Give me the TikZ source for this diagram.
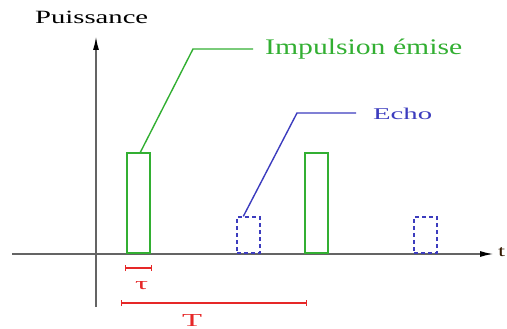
\documentclass[tikz,border=0pt]{standalone}
\usepackage{fontspec}
\setmainfont{Liberation Serif}
\usetikzlibrary{arrows.meta}
\definecolor{impgreen}{RGB}{50,175,50}
\definecolor{echoblue}{RGB}{60,60,190}
\definecolor{axgray}{RGB}{100,100,100}
\definecolor{mred}{RGB}{230,40,40}
\tikzset{
  axis/.style={draw=axgray, line width=1.8pt, -{Latex[length=14pt,width=6pt,color=black]}},
  pulse/.style={draw=impgreen, line width=1.6pt, rectangle, inner sep=0pt, anchor=south west, minimum width=23pt, minimum height=100pt},
  echobox/.style={draw=echoblue, line width=1.6pt, dashed, dash pattern=on 4pt off 3pt, rectangle, inner sep=0pt, anchor=south west, minimum width=23pt, minimum height=36pt},
  impleader/.style={draw=impgreen, line width=1.4pt},
  echoleader/.style={draw=echoblue, line width=1.4pt},
  measure/.style={draw=mred, line width=1.3pt, {Bar[width=6pt]}-{Bar[width=6pt]}},
  lbl/.style={inner sep=0pt, anchor=base west}
}
\begin{document}
\begin{tikzpicture}[x=1pt,y=-1pt]
\useasboundingbox (0,0) rectangle (507,329);
% axes
\coordinate (yb) at (96,307);
\coordinate (yt) at (96,36);
\coordinate (xl) at (12,254);
\coordinate (xr) at (494,254);
\draw[axis] (yb) -- (yt);
\draw[axis] (xl) -- (xr);
\node[lbl] (puis) at (35,24) {\resizebox{113pt}{12.4pt}{Puissance}};
\node[lbl] (tlab) at (498,256) {\resizebox{7pt}{9pt}{\textcolor{black!80!orange}{t}}};
% pulses
\node[pulse] (p1) at (126,254) {};
\node[pulse] (p2) at (304,254) {};
\node[echobox] (e1) at (236,254) {};
\node[echobox] (e2) at (413,254) {};
% labels
\node[lbl, text=impgreen] (imp) at (265,55) {\resizebox{197pt}{15.5pt}{Impulsion émise}};
\node[lbl, text=echoblue] (echo) at (373,120) {\resizebox{59pt}{11.4pt}{Echo}};
\coordinate (ibend) at (193,49);
\coordinate (ebend) at (297,113);
\draw[impleader, shorten >=12pt] ([xshift=2pt]p1.north) -- (ibend) -- (ibend -| imp.west);
\draw[echoleader, shorten >=17pt] ([xshift=-5pt]e1.north) -- (ebend) -- (ebend -| echo.west);
% measures
\coordinate (ta) at (125,268);
\coordinate (tb) at (152,268);
\coordinate (Ta) at (121,303);
\coordinate (Tb) at (307,303);
\draw[measure] (ta) -- (tb);
\draw[measure] (Ta) -- (Tb);
\node[lbl, text=mred] (tau) at (135,289) {\resizebox{13pt}{8pt}{τ}};
\node[lbl, text=mred] (Tlab) at (182,326) {\resizebox{20pt}{12pt}{T}};
\end{tikzpicture}
\end{document}
